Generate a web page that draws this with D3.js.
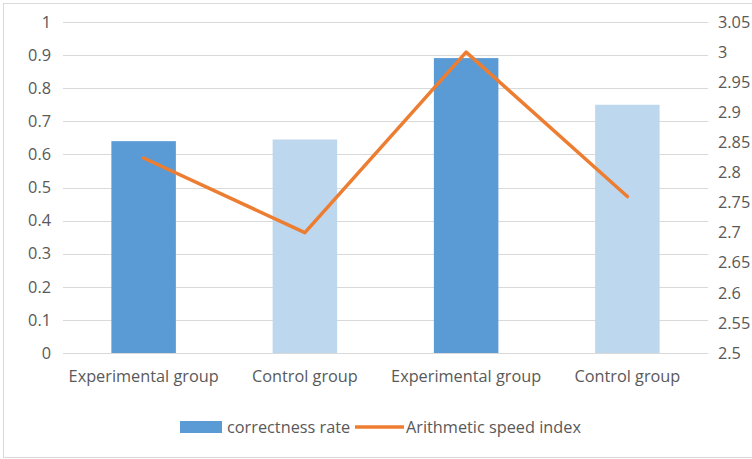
<!DOCTYPE html>
<html><head><meta charset="utf-8">
<script src="https://cdn.jsdelivr.net/npm/d3@7"></script>
<style>body{margin:0;background:#fff}svg{display:block}text{font-family:"Open Sans",sans-serif;fill:#595959}</style>
</head><body>
<script>
const categories = ["Experimental group","Control group","Experimental group","Control group"];
const correctnessRate = [0.64, 0.645, 0.891, 0.75];
const speedIndex = [2.824, 2.70, 3.0, 2.76];
const barColors = ["#5B9BD5","#BDD7EE","#5B9BD5","#BDD7EE"];
const leftTicks = [0,0.1,0.2,0.3,0.4,0.5,0.6,0.7,0.8,0.9,1];
const rightTicks = [2.5,2.55,2.6,2.65,2.7,2.75,2.8,2.85,2.9,2.95,3,3.05];
const legendLabels = ["correctness rate","Arithmetic speed index"];

const W=752,H=459,FS=16.3,FF="'Open Sans',sans-serif";
const svg=d3.select("body").append("svg").attr("width",W).attr("height",H);
svg.append("rect").attr("x",3.5).attr("y",3.5).attr("width",760).attr("height",454)
  .attr("fill","#fff").attr("stroke","#D9D9D9");

const L=63,R=708,T=22,B=353;
const x=d3.scaleBand().domain(d3.range(categories.length)).range([L,R]).paddingInner(0.6).paddingOuter(0.3);
const yL=d3.scaleLinear().domain([0,1]).range([B,T]);
const yR=d3.scaleLinear().domain([2.5,3.05]).range([B,T]);

// gridlines
svg.append("g").selectAll("line").data(leftTicks).join("line")
  .attr("x1",L).attr("x2",R).attr("y1",d=>Math.round(yL(d))+0.5).attr("y2",d=>Math.round(yL(d))+0.5)
  .attr("stroke","#D9D9D9").attr("stroke-width",1);

function style(g){g.select(".domain").remove();g.selectAll("text").attr("font-size",FS).style("font-family",FF).attr("fill","#595959");}

// left axis
const gL=svg.append("g").attr("transform",`translate(${L},0)`)
  .call(d3.axisLeft(yL).tickValues(leftTicks).tickSize(0).tickPadding(12).tickFormat(d3.format("~g")));
style(gL);

// right axis
const gR=svg.append("g").attr("transform",`translate(${R},0)`)
  .call(d3.axisRight(yR).tickValues(rightTicks).tickSize(0).tickPadding(10).tickFormat(d3.format("~g")));
style(gR);

// bottom axis labels
const gB=svg.append("g").attr("transform",`translate(0,${B})`)
  .call(d3.axisBottom(x).tickSize(0).tickPadding(17).tickFormat(i=>categories[i]));
style(gB);

// bars
svg.append("g").selectAll("rect").data(correctnessRate).join("rect")
  .attr("x",(d,i)=>x(i)).attr("width",x.bandwidth())
  .attr("y",d=>yL(d)).attr("height",d=>B-yL(d))
  .attr("fill",(d,i)=>barColors[i]);

// line
const line=d3.line().x((d,i)=>x(i)+x.bandwidth()/2).y(d=>yR(d));
svg.append("path").datum(speedIndex).attr("d",line).attr("fill","none")
  .attr("stroke","#ED7D31").attr("stroke-width",3.5).attr("stroke-linejoin","round").attr("stroke-linecap","round");

// legend
const lg=svg.append("g");
lg.append("rect").attr("x",180).attr("y",421).attr("width",42).attr("height",12).attr("fill","#5B9BD5");
lg.append("text").attr("x",227).attr("y",433).attr("font-size",FS).style("font-family",FF).text(legendLabels[0]);
lg.append("line").attr("x1",355).attr("x2",404).attr("y1",427).attr("y2",427).attr("stroke","#ED7D31").attr("stroke-width",3.5);
lg.append("text").attr("x",406).attr("y",433).attr("font-size",FS).style("font-family",FF).text(legendLabels[1]);
</script>
</body></html>
